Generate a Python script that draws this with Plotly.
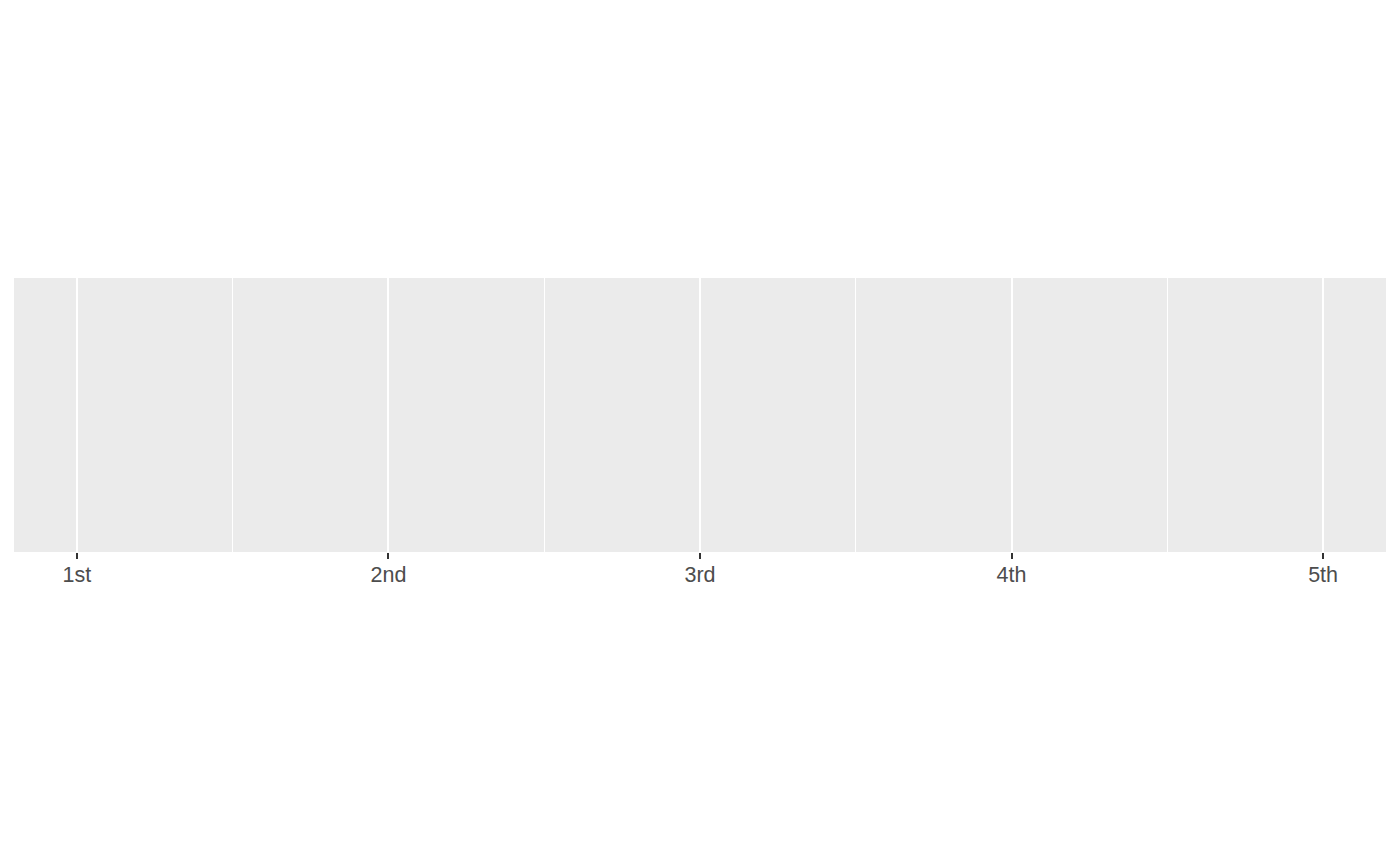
import plotly.graph_objects as go

categories = ["1st", "2nd", "3rd", "4th", "5th"]
positions = [1, 2, 3, 4, 5]
minor_breaks = [1.5, 2.5, 3.5, 4.5]

fig = go.Figure()
fig.add_trace(go.Scatter(x=positions, y=[0] * len(positions), mode="markers",
                         marker=dict(opacity=0), hoverinfo="skip", showlegend=False))

fig.update_layout(
    width=1400, height=866,
    margin=dict(l=14, r=14, t=278, b=314),
    paper_bgcolor="white", plot_bgcolor="#EBEBEB",
    font=dict(family="Liberation Sans, Arial, sans-serif", color="#4D4D4D"),
    showlegend=False,
)
fig.update_xaxes(
    range=[0.798, 5.202], tickmode="array", tickvals=positions, ticktext=categories,
    showgrid=True, gridcolor="white", gridwidth=2.2,
    ticks="outside", ticklen=6, tickwidth=2.2, tickcolor="#333333",
    tickfont=dict(size=21.5, color="#4D4D4D"),
    ticklabelstandoff=-3,
    minor=dict(tickmode="array", tickvals=minor_breaks, showgrid=True,
               gridcolor="white", gridwidth=1.1, ticks=""),
    zeroline=False, showline=False,
)
fig.update_yaxes(visible=False, showgrid=False, zeroline=False, range=[-1, 1])

fig.write_html("out.html")
